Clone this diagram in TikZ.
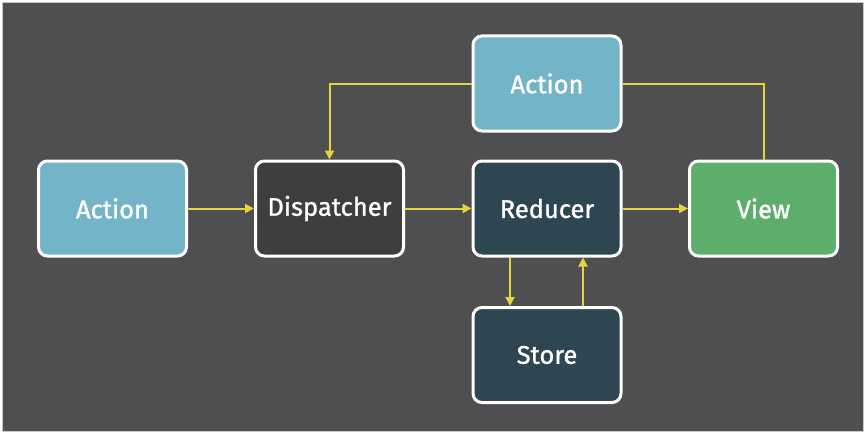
\documentclass[tikz,border=0pt]{standalone}
\usepackage{fontspec}
\setmainfont{Fira Sans}
\newfontfamily\boxfont[FakeBold=1.2]{Fira Sans}
\usetikzlibrary{arrows.meta}
\definecolor{bg}{HTML}{4F4E50}
\definecolor{frame}{HTML}{C8C8C8}
\definecolor{actblue}{HTML}{74B4C8}
\definecolor{dispdark}{HTML}{403D3E}
\definecolor{reddark}{HTML}{2E4552}
\definecolor{viewgreen}{HTML}{5DAE6A}
\definecolor{arrowyellow}{HTML}{E6D43A}
\tikzset{
  box/.style={draw=white, line width=3pt, rounded corners=9pt, minimum width=148pt, minimum height=95pt, text=white, font=\boxfont\fontsize{25.5}{30}\selectfont, inner sep=0pt},
  flow/.style={arrowyellow, line width=2pt, -{Triangle[width=9pt,length=9pt]}},
  flowplain/.style={arrowyellow, line width=2pt}
}
\begin{document}
\begin{tikzpicture}[x=1pt,y=-1pt]
\useasboundingbox (0,0) rectangle (867,436);
\fill[white] (0,0) rectangle (867,436);
\fill[bg, draw=frame, line width=1pt] (2.5,2.5) rectangle (863.5,431.5);
\node[box, fill=actblue] (act1) at (112.5,208.5) {Action};
\node[box, fill=dispdark] (disp) at (329.5,208.5) {Dispatcher};
\node[box, fill=reddark] (red) at (547,208.5) {Reducer};
\node[box, fill=viewgreen] (view) at (763.5,208.5) {View};
\node[box, fill=actblue] (act2) at (547,83.5) {Action};
\node[box, fill=reddark] (store) at (547,355) {Store};
\draw[flow] (act1.east) -- (disp.west);
\draw[flow] (disp.east) -- (red.west);
\draw[flow] (red.east) -- (view.west);
\draw[flow] (act2.west) -| (disp.north);
\draw[flowplain] (view.north) |- (act2.east);
\draw[flow] ([xshift=-37pt]red.south) -- ([xshift=-37pt]store.north);
\draw[flow] ([xshift=36pt]store.north) -- ([xshift=36pt]red.south);
\end{tikzpicture}
\end{document}
